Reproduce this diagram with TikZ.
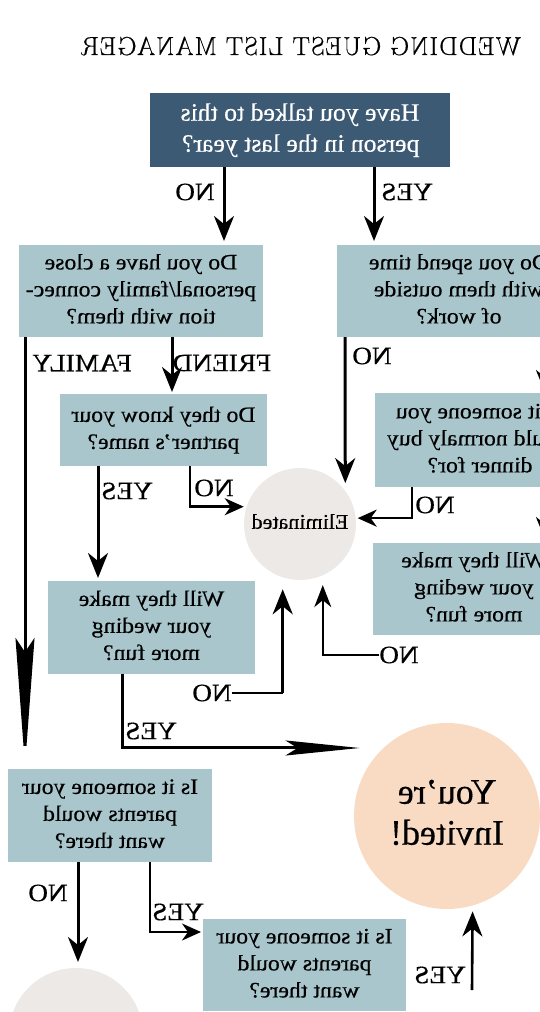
\documentclass[tikz,border=0pt]{standalone}
\usepackage{fontspec}
\setmainfont{Liberation Serif}[FakeBold=0.4]
\newfontfamily\titlefont{Latin Modern Roman}[LetterSpace=4.6,FakeBold=0.6]
\usetikzlibrary{arrows.meta,calc}
\newcommand{\mtx}[3][c]{\scalebox{-#2}[1]{\begin{tabular}{@{}#1@{}}#3\end{tabular}}}
\newcommand{\mlab}[1]{\scalebox{-1.09}[1]{#1}}
\definecolor{darkbox}{HTML}{3D5A74}
\definecolor{lightbox}{HTML}{A9C6CC}
\definecolor{elimc}{HTML}{EDE9E6}
\definecolor{invc}{HTML}{F9DBC3}
\begin{document}
\begin{tikzpicture}[x=1pt,y=1pt,
  qbox/.style={fill=lightbox, inner sep=0pt, outer sep=0pt, font=\fontsize{22}{27}\selectfont},
  lab/.style={inner sep=0pt, outer sep=0pt, font=\fontsize{25}{28}\selectfont},
  arr/.style={line width=3pt, -{Stealth[length=25pt,width=20pt,inset=8pt]}},
  sarr/.style={line width=2.5pt, -{Stealth[length=19pt,width=17pt,inset=6pt]}},
  tarr/.style={line width=1.6pt, -{Stealth[length=22pt,width=17pt,inset=7pt]}},
  thinln/.style={line width=1.5pt},
]
\fill[white] (0,0) rectangle (540,-1012);
\useasboundingbox (0,0) rectangle (540,-1012);
\clip (0,0) rectangle (540,-1012);

% title
\node[inner sep=0pt, font={\titlefont\fontsize{26}{30}\selectfont}] (title) at (301,-46) {\reflectbox{WEDDING GUEST LIST MANAGER}};

% boxes
\node[fill=darkbox, text=white, inner sep=0pt, outer sep=0pt, minimum width=300pt, minimum height=74pt,
      font=\fontsize{25}{31}\selectfont] (q1) at (300,-130) {\mtx[l]{1.03}{Have you talked to this\\person in the last year?}};
\node[qbox, minimum width=244pt, minimum height=92pt] (q2) at (141,-291) {\mtx{1.08}{Do you have a close\\personal/family connec-\\tion with them?}};
\node[qbox, minimum width=244pt, minimum height=92pt] (q3) at (459,-291) {\mtx{1.08}{Do you spend time\\with them outside\\of work?}};
\node[qbox, minimum width=207pt, minimum height=72pt] (q4) at (163.5,-430) {\mtx{1.08}{Do they know your\\partner’s name?}};
\node[qbox, minimum width=210pt, minimum height=94pt] (q5) at (480,-440) {\mtx{1.08}{Is it someone you\\would normaly buy\\dinner for?}};
\node[qbox, minimum width=202pt, minimum height=92pt] (q6) at (474,-589) {\mtx{1.08}{Will they make\\your weding\\more fun?}};
\node[qbox, minimum width=207pt, minimum height=93pt] (q7) at (151.5,-627.5) {\mtx{1.08}{Will they make\\your weding\\more fun?}};
\node[qbox, minimum width=204pt, minimum height=93pt] (q8) at (110,-815.5) {\mtx{1.08}{Is it someone your\\parents would\\want there?}};
\node[qbox, minimum width=203pt, minimum height=92pt] (q9) at (304.5,-965) {\mtx{1.08}{Is it someone your\\parents would\\want there?}};

% circles
\node[circle, fill=elimc, minimum size=112pt, inner sep=0pt, outer sep=0pt, font=\fontsize{21}{24}\selectfont] (elim) at (300,-524) {\mtx{1.05}{Eliminated}};
\node[circle, fill=invc, minimum size=186pt, inner sep=0pt, outer sep=0pt, font=\fontsize{36}{41}\selectfont] (inv) at (447,-816) {\mtx{1}{You’re\\Invited!}};
\node[circle, fill=elimc, minimum size=134pt, inner sep=0pt, outer sep=0pt] (bl) at (76,-1035) {};

% labels
\node[lab] (l1no) at (195,-192) {\mlab{NO}};
\node[lab] (l1yes) at (407,-192) {\mlab{YES}};
\node[lab] (lfam) at (82,-363) {\mlab{FAMILY}};
\node[lab] (lfri) at (222,-363) {\mlab{FRIEND}};
\node[lab] (l3no) at (372,-356) {\mlab{NO}};
\node[lab] (l4yes) at (127,-491) {\mlab{YES}};
\node[lab] (l4no) at (214,-488) {\mlab{NO}};
\node[lab] (l5no) at (435,-505) {\mlab{NO}};
\node[lab] (l6no) at (399,-655) {\mlab{NO}};
\node[lab] (l7no) at (212,-693) {\mlab{NO}};
\node[lab] (l7yes) at (151,-731) {\mlab{YES}};
\node[lab] (l8no) at (48,-893) {\mlab{NO}};
\node[lab] (l8yes) at (178,-912) {\mlab{YES}};
\node[lab] (l9yes) at (440,-975) {\mlab{YES}};

% connectors
\draw[arr, shorten >=4pt] ([xshift=-76pt]q1.south) -- ([xshift=83pt]q2.north);
\draw[arr, shorten >=4pt] ([xshift=74pt]q1.south) -- ([xshift=-85pt]q3.north);
\draw[line width=3pt, -{Stealth[length=128pt,width=19pt,inset=14pt]}, shorten >=3pt]
  ([xshift=-116pt]q2.south) -- ([xshift=-85pt]q8.north);
\draw[arr, shorten >=2pt] ([xshift=31pt]q2.south) -- ([xshift=8.5pt]q4.north);
\draw[arr, shorten >=3pt] ([xshift=-65.5pt]q4.south) -- ([xshift=-53.5pt]q7.north);
\draw[sarr, shorten >=3pt] ([xshift=26.5pt]q4.south) |- (elim.162);
\draw[arr, shorten >=8pt] ([xshift=-114pt]q3.south) -- (elim.36.5);
\draw[sarr, shorten >=2pt] ([xshift=-68pt]q5.south) |- (elim.6);
\draw[tarr, shorten >=10pt] (l6no.west) -| (elim.-66);
\draw[thinln] (l7no.east) -- (elim.252 |- l7no.east);
\draw[arr, shorten >=12pt] (elim.252 |- l7no.east) -- (elim.252);
\draw[line width=3pt, -{Stealth[length=74pt,width=15pt,inset=12pt]}, shorten >=24pt]
  ([xshift=-29.5pt]q7.south) |- (inv.133);
\draw[arr, shorten >=6pt] ([xshift=-32pt]q8.south) -- ([xshift=2pt]bl.north);
\draw[sarr, line width=2pt, shorten >=2pt] ([xshift=40pt]q8.south) |- ([yshift=33pt]q9.west);
\coordinate (y9s) at (472,-990);
\draw[arr, line width=2.6pt, shorten >=6pt] (y9s) -- (inv.-74.4);

% arrows entering from beyond the right edge
\coordinate (r1a) at (546,-337);
\coordinate (r1b) at (546,-395);
\coordinate (r2a) at (546,-487);
\coordinate (r2b) at (546,-542);
\draw[arr] (r1a) -- (r1b);
\draw[arr] (r2a) -- (r2b);
\end{tikzpicture}
\end{document}
